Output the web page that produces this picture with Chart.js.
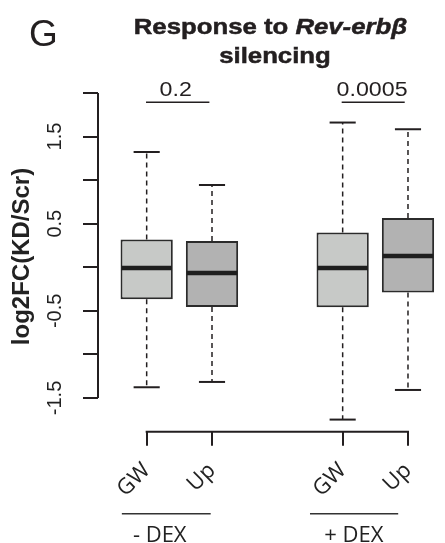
<!DOCTYPE html>
<html>
<head>
<meta charset="utf-8">
<script src="https://cdn.jsdelivr.net/npm/chart.js@4/dist/chart.umd.min.js"></script>
<style>
html,body{margin:0;padding:0;background:#fff;}
#c{display:block;}
</style>
</head>
<body>
<canvas id="c" width="445" height="543"></canvas>
<script>
// ---- data ----
const categories = ['GW', 'Up', 'GW', 'Up'];
const positions = [1, 2, 4, 5];
const groups = ['- DEX', '+ DEX'];
const whiskerLow = [-1.377, -1.316, -1.748, -1.408];
const q1 = [-0.367, -0.456, -0.459, -0.290];
const median = [-0.008, -0.065, -0.008, 0.130];
const q3 = [0.318, 0.302, 0.398, 0.566];
const whiskerHigh = [1.323, 0.944, 1.661, 1.584];
const pValues = ['0.2', '0.0005'];
const yTicks = [-1.5, -1, -0.5, 0, 0.5, 1, 1.5, 2];
const yTickLabels = [-1.5, -0.5, 0.5, 1.5];
const yTitle = 'log2FC(KD/Scr)';

// ---- layout/style constants ----
const boxFill = ['#c7c9c7', '#b2b2b2', '#c7c9c7', '#b2b2b2'];
const ink = '#231f20';
const pLineX = [[0.99, 1.96], [3.985, 4.95]];
const pTextX = [1.445, 4.45];
const pLineY = 1.893;
const groupLineX = [[0.62, 1.98], [3.5, 4.85]];
const groupTextX = [1.2, 4.17];
const STRETCH = 1.17;

function stretchedText(ctx, parts, cx, baseline, stretch, strokeW) {
  let total = 0;
  parts.forEach(p => { ctx.font = p.font; p.w = ctx.measureText(p.text).width; total += p.w; });
  ctx.save();
  ctx.translate(cx, baseline);
  ctx.scale(stretch, 1);
  let x = -total / 2;
  ctx.textAlign = 'left';
  ctx.textBaseline = 'alphabetic';
  parts.forEach(p => {
    ctx.font = p.font;
    ctx.fillText(p.text, x, 0);
    if (strokeW) { ctx.lineWidth = strokeW; ctx.strokeStyle = ctx.fillStyle; ctx.strokeText(p.text, x, 0); }
    x += p.w;
  });
  ctx.restore();
}

const boxPlugin = {
  id: 'boxExtras',
  beforeDatasetsDraw(chart) {
    const ctx = chart.ctx, xs = chart.scales.x, ys = chart.scales.y;
    ctx.save();
    ctx.strokeStyle = ink;
    ctx.lineWidth = 1.5;
    ctx.setLineDash([5, 4]);
    positions.forEach((p, i) => {
      const x = xs.getPixelForValue(p);
      ctx.beginPath();
      ctx.moveTo(x, ys.getPixelForValue(q3[i]));
      ctx.lineTo(x, ys.getPixelForValue(whiskerHigh[i]));
      ctx.moveTo(x, ys.getPixelForValue(q1[i]));
      ctx.lineTo(x, ys.getPixelForValue(whiskerLow[i]));
      ctx.stroke();
    });
    ctx.setLineDash([]);
    ctx.lineWidth = 2;
    positions.forEach((p, i) => {
      const xl = xs.getPixelForValue(p - 0.2), xr = xs.getPixelForValue(p + 0.2);
      [whiskerHigh[i], whiskerLow[i]].forEach(v => {
        const y = ys.getPixelForValue(v);
        ctx.beginPath(); ctx.moveTo(xl, y); ctx.lineTo(xr, y); ctx.stroke();
      });
    });
    ctx.restore();
  },
  afterDatasetsDraw(chart) {
    const ctx = chart.ctx, xs = chart.scales.x, ys = chart.scales.y;
    const area = chart.chartArea;
    ctx.save();
    ctx.strokeStyle = '#1e1e1e';
    ctx.lineWidth = 4.5;
    positions.forEach((p, i) => {
      const y = ys.getPixelForValue(median[i]);
      ctx.beginPath();
      ctx.moveTo(xs.getPixelForValue(p - 0.4) + 1, y);
      ctx.lineTo(xs.getPixelForValue(p + 0.4) - 1, y);
      ctx.stroke();
    });
    ctx.strokeStyle = ink;
    ctx.lineWidth = 2;
    ctx.beginPath();
    ctx.moveTo(area.left, ys.getPixelForValue(yTicks[0]));
    ctx.lineTo(area.left, ys.getPixelForValue(yTicks[yTicks.length - 1]));
    ctx.stroke();
    ctx.beginPath();
    ctx.moveTo(xs.getPixelForValue(positions[0]) - 1, area.bottom);
    ctx.lineTo(xs.getPixelForValue(positions[positions.length - 1]) + 1, area.bottom);
    ctx.stroke();
    ctx.lineWidth = 1.5;
    ctx.fillStyle = ink;
    pValues.forEach((t, i) => {
      const y = ys.getPixelForValue(pLineY);
      ctx.beginPath();
      ctx.moveTo(xs.getPixelForValue(pLineX[i][0]), y);
      ctx.lineTo(xs.getPixelForValue(pLineX[i][1]), y);
      ctx.stroke();
      stretchedText(ctx, [{text: t, font: '20px "Liberation Sans", Arial, sans-serif'}],
        xs.getPixelForValue(pTextX[i]), y - 6, 1.16);
    });
    ctx.strokeStyle = '#333';
    ctx.lineWidth = 1.5;
    groups.forEach((g, i) => {
      const y = area.bottom + 82;
      ctx.beginPath();
      ctx.moveTo(xs.getPixelForValue(groupLineX[i][0]), y);
      ctx.lineTo(xs.getPixelForValue(groupLineX[i][1]), y);
      ctx.stroke();
      ctx.font = '22px "Open Sans", sans-serif';
      ctx.textAlign = 'center';
      ctx.textBaseline = 'alphabetic';
      ctx.fillStyle = '#222';
      ctx.fillText(g, xs.getPixelForValue(groupTextX[i]), area.bottom + 110);
    });
    // y axis title
    ctx.save();
    ctx.translate(22.5, (ys.getPixelForValue(-1.5) + ys.getPixelForValue(2.0)) / 2 + 11);
    ctx.rotate(-Math.PI / 2);
    ctx.font = 'bold 24px "Liberation Sans", Arial, sans-serif';
    ctx.fillStyle = '#222';
    ctx.textAlign = 'center';
    ctx.textBaseline = 'middle';
    ctx.fillText(yTitle, 0, 0);
    ctx.restore();
    // title
    ctx.fillStyle = ink;
    stretchedText(ctx, [
      {text: 'Response to ', font: 'bold 22px "Liberation Sans", Arial, sans-serif'},
      {text: 'Rev-erbβ', font: 'italic bold 22px "Liberation Sans", Arial, sans-serif'}
    ], 270.5, 34, STRETCH, 0.5);
    stretchedText(ctx, [{text: 'silencing', font: 'bold 22px "Liberation Sans", Arial, sans-serif'}], 275, 63, STRETCH, 0.5);
    ctx.font = '37px "Liberation Sans", Arial, sans-serif';
    ctx.textAlign = 'left';
    ctx.textBaseline = 'alphabetic';
    ctx.fillText('G', 29, 46);
    ctx.restore();
  }
};

new Chart(document.getElementById('c'), {
  type: 'bar',
  data: {
    datasets: [{
      data: positions.map((p, i) => ({x: p, y: [q1[i], q3[i]]})),
      backgroundColor: boxFill,
      borderColor: '#2b2b2b',
      borderWidth: 2,
      borderSkipped: false,
      barPercentage: 0.8,
      categoryPercentage: 1.0,
      grouped: false
    }]
  },
  options: {
    responsive: false,
    animation: false,
    devicePixelRatio: 1,
    layout: {padding: {left: 8.7, top: 93, right: 5, bottom: 0}},
    plugins: {legend: {display: false}, tooltip: {enabled: false}, title: {display: false}},
    scales: {
      x: {
        type: 'linear',
        offset: false,
        min: 0.255,
        max: 5.49,
        grid: {display: true, offset: false, drawOnChartArea: false, drawTicks: true, tickLength: 14, color: ink, lineWidth: 2},
        border: {display: false},
        afterBuildTicks: s => { s.ticks = positions.map(v => ({value: v})); },
        afterFit: s => { s.height = 111.3; },
        ticks: {
          autoSkip: false,
          minRotation: 45,
          maxRotation: 45,
          padding: 12,
          color: '#222',
          font: {family: '"Open Sans", sans-serif', size: 22},
          callback: (v, i) => categories[i]
        }
      },
      y: {
        type: 'linear',
        min: -1.887,
        max: 2.0,
        grid: {display: true, drawOnChartArea: false, drawTicks: true, tickLength: 15, color: ink, lineWidth: 2},
        border: {display: false},
        afterBuildTicks: s => { s.ticks = yTicks.map(v => ({value: v})); },
        afterFit: s => { s.width = 98 - 8.7; },
        ticks: {
          autoSkip: false,
          minRotation: 90,
          maxRotation: 90,
          crossAlign: 'center',
          padding: 10,
          color: '#222',
          font: {family: '"Liberation Sans", Arial, sans-serif', size: 20},
          callback: v => yTickLabels.includes(v) ? String(v) : ''
        },
        title: {display: false}
      }
    }
  },
  plugins: [boxPlugin]
});
</script>
</body>
</html>
